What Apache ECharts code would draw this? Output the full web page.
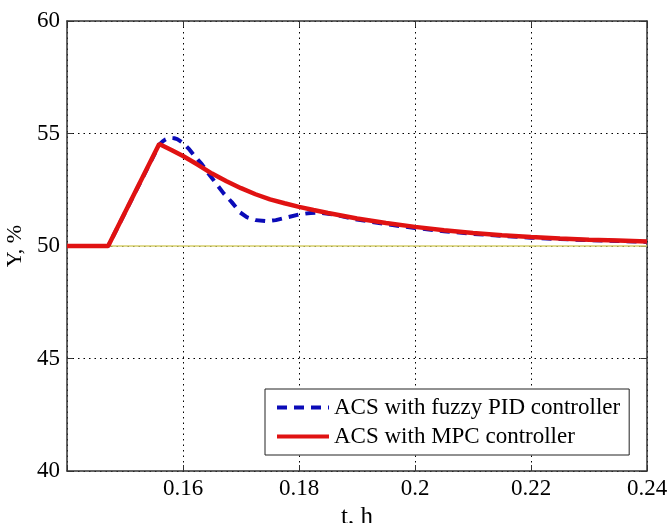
<!DOCTYPE html>
<html>
<head>
<meta charset="utf-8">
<script src="https://cdn.jsdelivr.net/npm/echarts@6/dist/echarts.min.js"></script>
<style>
  html, body { margin: 0; padding: 0; background: #fff; }
  #chart { width: 668px; height: 523px; }
</style>
</head>
<body>
<div id="chart"></div>
<script>
  // t, h  /  Y, %
  var tMpc = [0.14, 0.1471, 0.1559, 0.158, 0.16, 0.1625, 0.165, 0.1675, 0.17, 0.1725, 0.175, 0.1775, 0.18, 0.1825, 0.185, 0.19, 0.195, 0.2, 0.205, 0.21, 0.215, 0.22, 0.225, 0.23, 0.235, 0.24];
  var yMpc = [50, 50, 54.53, 54.27, 54.0, 53.62, 53.22, 52.88, 52.57, 52.3, 52.07, 51.9, 51.74, 51.6, 51.47, 51.22, 51.02, 50.85, 50.7, 50.58, 50.48, 50.4, 50.33, 50.28, 50.24, 50.2];

  var tPid = [0.14, 0.1471, 0.1559, 0.1565, 0.157, 0.1578, 0.1585, 0.159, 0.16, 0.161, 0.162, 0.1632, 0.1643, 0.1655, 0.167, 0.1684, 0.1698, 0.171, 0.1725, 0.1745, 0.176, 0.1779, 0.18, 0.182, 0.1836, 0.186, 0.19, 0.195, 0.2, 0.205, 0.21, 0.215, 0.22, 0.225, 0.23, 0.235, 0.24];
  var yPid = [50, 50, 54.5, 54.65, 54.74, 54.8, 54.79, 54.75, 54.58, 54.32, 54.0, 53.65, 53.25, 52.85, 52.34, 51.95, 51.5, 51.28, 51.15, 51.1, 51.15, 51.27, 51.4, 51.47, 51.48, 51.4, 51.18, 50.97, 50.8, 50.66, 50.54, 50.45, 50.37, 50.31, 50.26, 50.22, 50.18];

  var setpoint = 50;
  var legendNames = ['ACS with fuzzy PID controller', 'ACS with MPC controller'];

  function pairs(xs, ys) {
    return xs.map(function (x, i) { return [x, ys[i]]; });
  }

  var font = 'Liberation Serif';
  var chart = echarts.init(document.getElementById('chart'));

  var tickStyle = { show: true, inside: true, length: 6, lineStyle: { color: '#333', width: 1 } };
  var lineAxis = { show: true, lineStyle: { color: '#333', width: 1.5 } };
  var dotted = { show: true, lineStyle: { color: '#000', width: 1, type: [1.5, 4] } };

  var option = {
    backgroundColor: '#fff',
    animation: false,
    grid: { left: 67, right: 21, top: 21, bottom: 52, outerBoundsMode: 'none', containLabel: false },
    legend: {
      data: legendNames,
      orient: 'vertical',
      left: 265,
      top: 389,
      padding: [7, 9, 7, 10],
      itemGap: 6,
      itemWidth: 52,
      itemHeight: 14,
      backgroundColor: '#fff',
      borderColor: '#222',
      borderWidth: 1,
      itemStyle: { color: 'rgba(0,0,0,0)', borderColor: 'rgba(0,0,0,0)', borderWidth: 0 },
      lineStyle: { width: 4 },
      textStyle: { fontFamily: font, fontSize: 23, color: '#000' }
    },
    xAxis: [
      {
        type: 'value', min: 0.14, max: 0.24, interval: 0.02,
        name: 't, h', nameLocation: 'middle', nameGap: 30,
        nameTextStyle: { fontFamily: font, fontSize: 25, color: '#000' },
        axisLine: lineAxis, axisTick: tickStyle, splitLine: dotted,
        axisLabel: {
          fontFamily: font, fontSize: 23, color: '#000', margin: 6,
          formatter: function (v) { return Math.abs(v - 0.14) < 1e-9 ? '' : String(+v.toFixed(2)); }
        }
      },
      {
        type: 'value', min: 0.14, max: 0.24, interval: 0.02, position: 'top',
        axisLine: lineAxis, axisTick: tickStyle, splitLine: { show: false }, axisLabel: { show: false }
      }
    ],
    yAxis: [
      {
        type: 'value', min: 40, max: 60, interval: 5,
        name: 'Y, %', nameLocation: 'middle', nameGap: 40, nameRotate: 90,
        nameTextStyle: { fontFamily: font, fontSize: 22, color: '#000' },
        axisLine: lineAxis, axisTick: tickStyle, splitLine: dotted,
        axisLabel: { fontFamily: font, fontSize: 23, color: '#000', margin: 7 }
      },
      {
        type: 'value', min: 40, max: 60, interval: 5, position: 'right',
        axisLine: lineAxis, axisTick: tickStyle, splitLine: { show: false }, axisLabel: { show: false }
      }
    ],
    series: [
      {
        name: 'setpoint', type: 'line', showSymbol: false, symbol: 'none', silent: true,
        data: [[0.14, setpoint], [0.24, setpoint]],
        lineStyle: { color: '#d6cf6a', width: 1.5 }, z: 1
      },
      {
        name: legendNames[0], type: 'line', showSymbol: false, symbol: 'none',
        data: pairs(tPid, yPid),
        lineStyle: { color: '#0b0bb8', width: 4, type: [10, 7] }, itemStyle: { color: '#0b0bb8' }, z: 2
      },
      {
        name: legendNames[1], type: 'line', showSymbol: false, symbol: 'none',
        data: pairs(tMpc, yMpc),
        lineStyle: { color: '#e01212', width: 4.5 }, itemStyle: { color: '#e01212' }, z: 3
      }
    ]
  };

  chart.setOption(option);
</script>
</body>
</html>
